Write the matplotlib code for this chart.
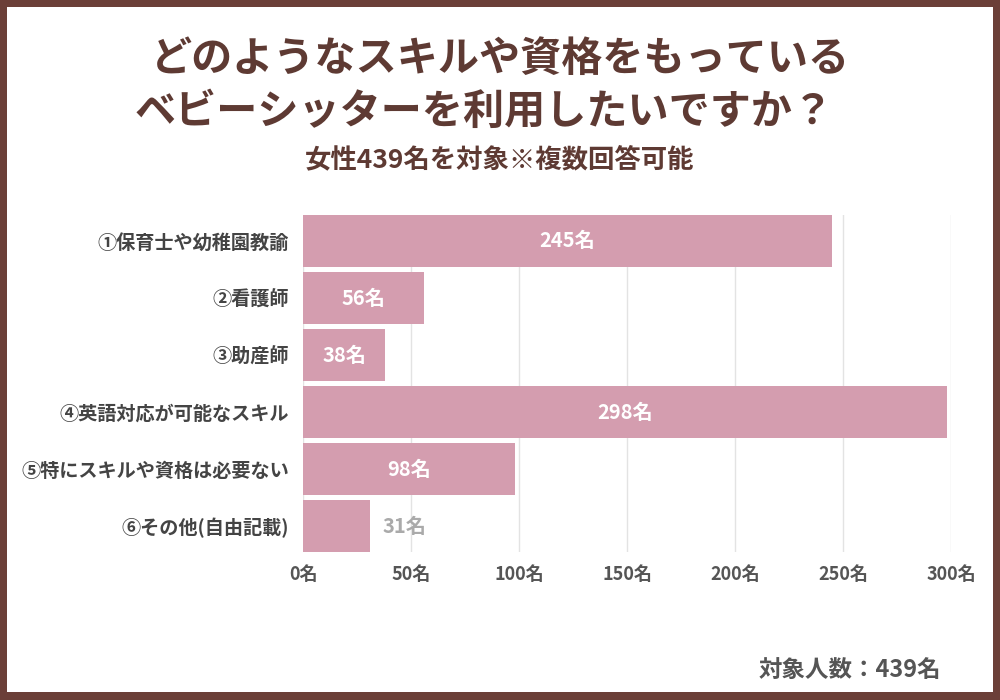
import matplotlib
matplotlib.use('Agg')
import matplotlib.pyplot as plt
from matplotlib.patches import Rectangle

# =============================================================================
# Data
# =============================================================================

categories = ['①保育士や幼稚園教諭', '②看護師', '③助産師',
              '④英語対応が可能なスキル', '⑤特にスキルや資格は必要ない',
              '⑥その他(自由記載)']
counts = [245, 56, 38, 298, 98, 31]
ticks = [0, 50, 100, 150, 200, 250, 300]
tick_labels = [f'{t}名' for t in ticks]

title_1 = 'どのようなスキルや資格をもっている'
title_2 = 'ベビーシッターを利用したいですか？'
subtitle = '女性439名を対象※複数回答可能'
footer = '対象人数：439名'

# =============================================================================
# Style
# =============================================================================

plt.rcParams['font.family'] = ['Noto Sans CJK JP', 'DejaVu Sans']
plt.rcParams['font.weight'] = 'bold'

brown = '#6b3f38'
title_col = '#5e3a33'
bar_col = '#d49daf'
text_col = '#444444'

fig = plt.figure(figsize=(10, 7), dpi=100)
fig.patch.set_facecolor(brown)
# white panel inside the brown frame
fig.patches.append(Rectangle((7/1000, 8/700), 986/1000, 685/700,
                             transform=fig.transFigure, facecolor='white',
                             edgecolor='none', zorder=-1))

ax = fig.add_axes([0.303, 0.2114, 0.648, 0.4814])
ax.set_facecolor('none')

y = list(range(len(categories)))
ax.barh(y, counts, height=0.91, color=bar_col, zorder=2)

ax.set_xlim(0, 300)
ax.set_ylim(len(categories) - 0.545, -0.455)
ax.set_xticks(ticks)
ax.set_xticklabels(tick_labels)
ax.set_yticks(y)
ax.set_yticklabels(categories)
ax.tick_params(axis='x', length=0, pad=9, labelsize=13, labelcolor='#555555')
ax.tick_params(axis='y', length=0, pad=10, labelsize=13.8, labelcolor=text_col)
ax.grid(axis='x', color='#e3e3e3', linewidth=1, zorder=0)
for s in ax.spines.values():
    s.set_visible(False)

# value labels
for yi, v in zip(y, counts):
    if v > 35:
        ax.text(v / 2, yi, f'{v}名', ha='center', va='center', color='white',
                fontsize=14.5, fontweight='bold', zorder=3)
    else:
        ax.text(v + 6, yi, f'{v}名', ha='left', va='center', color='#aaaaaa',
                fontsize=14.5, fontweight='bold', zorder=3)

# titles
fig.text(0.5, 1 - 59/700, title_1, ha='center', va='center', fontsize=29.6,
         fontweight='bold', color=title_col)
fig.text(0.484, 1 - 112/700, title_2, ha='center', va='center', fontsize=29.6,
         fontweight='bold', color=title_col)
fig.text(0.5, 1 - 160/700, subtitle, ha='center', va='center', fontsize=19,
         fontweight='bold', color=title_col)
fig.text(0.941, 1 - 670/700, footer, ha='right', va='center', fontsize=16.9,
         fontweight='bold', color='#555555')

fig.savefig('out.png', dpi=100, facecolor=fig.get_facecolor())
